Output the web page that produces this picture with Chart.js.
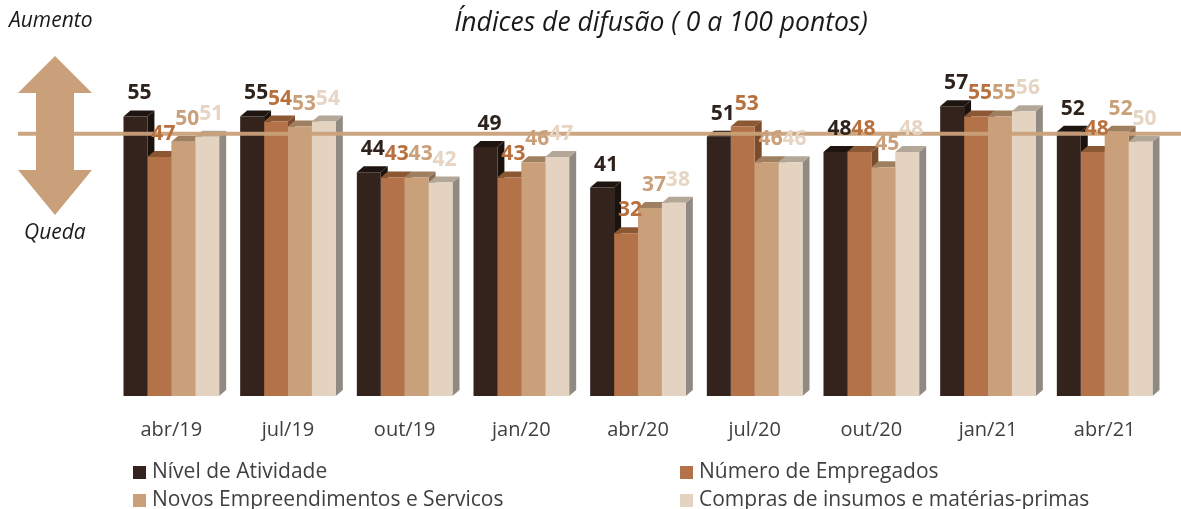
<!DOCTYPE html>
<html lang="pt">
<head>
<meta charset="utf-8">
<title>Índices de difusão</title>
<script src="https://cdn.jsdelivr.net/npm/chart.js@4.4.0/dist/chart.umd.min.js"></script>
<style>
  html, body { margin: 0; padding: 0; background: #fff; }
  #wrap { position: relative; width: 1181px; height: 509px; overflow: hidden; font-family: "Open Sans", sans-serif; }
  #chart { position: absolute; left: 0; top: 0; }
  .txt { position: absolute; white-space: nowrap; color: #1a1a1a; font-style: italic; }
  #title { left: 0; width: 1322px; top: 3px; text-align: center; font-size: 26.5px; }
  #up { left: 9px; top: 5px; font-size: 21px; }
  #down { left: 24px; top: 217px; font-size: 21px; }
  #legend { position: absolute; left: 133px; top: 456px; width: 1048px; }
  .item { position: absolute; font-size: 21px; color: #404040; white-space: nowrap; }
  .item span { display: inline-block; width: 13px; height: 13px; margin-right: 6px; vertical-align: -1px; }
</style>
</head>
<body>
<div id="wrap">
  <canvas id="chart" width="1181" height="509"></canvas>
  <div class="txt" id="title">Índices de difusão ( 0 a 100 pontos)</div>
  <div class="txt" id="up">Aumento</div>
  <div class="txt" id="down">Queda</div>
  <div id="legend"></div>
</div>
<script>
// data
const categories = ["abr/19", "jul/19", "out/19", "jan/20", "abr/20", "jul/20", "out/20", "jan/21", "abr/21"];
const seriesNames = ["Nível de Atividade", "Número de Empregados", "Novos Empreendimentos e Servicos", "Compras de insumos e matérias-primas"];
const nivelAtividade = [55, 55, 44, 49, 41, 51, 48, 57, 52];
const numeroEmpregados = [47, 54, 43, 43, 32, 53, 48, 55, 48];
const novosEmpreendimentos = [50, 53, 43, 46, 37, 46, 45, 55, 52];
const comprasInsumos = [51, 54, 42, 47, 38, 46, 48, 56, 50];
const neutralLine = 50;

// colours: front, top face, side face, label
const fronts = ["#33231c", "#b47249", "#c9a07a", "#e3d3c0"];
const tops = ["#1e1510", "#8c5733", "#9e7f5f", "#b3a898"];
const sides = ["#1a120d", "#7b4b2c", "#8b6f53", "#918a82"];
const labelColors = ["#2e221c", "#b8703f", "#c9a07a", "#e6d5c3"];
const depthX = 7, depthY = 6;

const bars3d = {
  id: "bars3d",
  beforeDraw(chart) {
    // double arrow on the left
    const c = chart.ctx;
    c.save();
    c.fillStyle = "#c9a07a";
    c.beginPath();
    c.moveTo(55, 56); c.lineTo(92, 93); c.lineTo(74, 93); c.lineTo(74, 170);
    c.lineTo(92, 170); c.lineTo(55, 215); c.lineTo(18, 170); c.lineTo(36, 170);
    c.lineTo(36, 93); c.lineTo(18, 93); c.closePath();
    c.fill();
    c.restore();
  },
  beforeDatasetsDraw(chart) {
    const c = chart.ctx;
    c.save();
    for (let i = 0; i < categories.length; i++) {
      chart.data.datasets.forEach((ds, d) => {
        const bar = chart.getDatasetMeta(d).data[i];
        const half = bar.width / 2;
        const l = bar.x - half, r = bar.x + half;
        // side
        c.fillStyle = sides[d];
        c.beginPath();
        c.moveTo(r, bar.y); c.lineTo(r + depthX, bar.y - depthY);
        c.lineTo(r + depthX, bar.base - depthY); c.lineTo(r, bar.base);
        c.closePath(); c.fill();
        // top
        c.fillStyle = tops[d];
        c.beginPath();
        c.moveTo(l, bar.y); c.lineTo(l + depthX, bar.y - depthY);
        c.lineTo(r + depthX, bar.y - depthY); c.lineTo(r, bar.y);
        c.closePath(); c.fill();
      });
    }
    c.restore();
  },
  afterDatasetsDraw(chart) {
    const c = chart.ctx;
    const y = chart.scales.y;
    c.save();
    // neutral line at 50 (back plane)
    const ly = y.getPixelForValue(neutralLine) - depthY - 2;
    c.strokeStyle = "rgba(201,160,122,0.95)";
    c.lineWidth = 4;
    c.beginPath();
    c.moveTo(18, ly); c.lineTo(chart.width, ly);
    c.stroke();
    // value labels
    c.font = "bold 21px 'Open Sans'";
    c.textAlign = "center";
    c.textBaseline = "alphabetic";
    chart.data.datasets.forEach((ds, d) => {
      c.fillStyle = labelColors[d];
      chart.getDatasetMeta(d).data.forEach((bar, i) => {
        c.fillText(String(ds.data[i]), bar.x + 4, bar.y - depthY - 11);
      });
    });
    c.restore();
  }
};

const values = [nivelAtividade, numeroEmpregados, novosEmpreendimentos, comprasInsumos];

new Chart(document.getElementById("chart"), {
  type: "bar",
  data: {
    labels: categories,
    datasets: values.map((v, d) => ({
      label: seriesNames[d],
      data: v,
      backgroundColor: fronts[d],
      borderWidth: 0,
      barPercentage: 1,
      categoryPercentage: 0.82
    }))
  },
  options: {
    responsive: false,
    animation: false,
    layout: { padding: { top: 91, left: 113, right: 18, bottom: 53 } },
    plugins: { legend: { display: false }, tooltip: { enabled: false } },
    scales: {
      x: {
        grid: { display: false },
        border: { display: false },
        ticks: { color: "#404040", font: { family: "Open Sans", size: 20 }, padding: 14 }
      },
      y: { display: false, min: 0, max: 60 }
    }
  },
  plugins: [bars3d]
});

// legend
const legend = document.getElementById("legend");
seriesNames.forEach((name, d) => {
  const el = document.createElement("div");
  el.className = "item";
  el.style.left = (d % 2 ? 547 : 0) + "px";
  el.style.top = (d < 2 ? 0 : 28) + "px";
  el.innerHTML = '<span style="background:' + fronts[d] + '"></span>' + name;
  legend.appendChild(el);
});
</script>
</body>
</html>
